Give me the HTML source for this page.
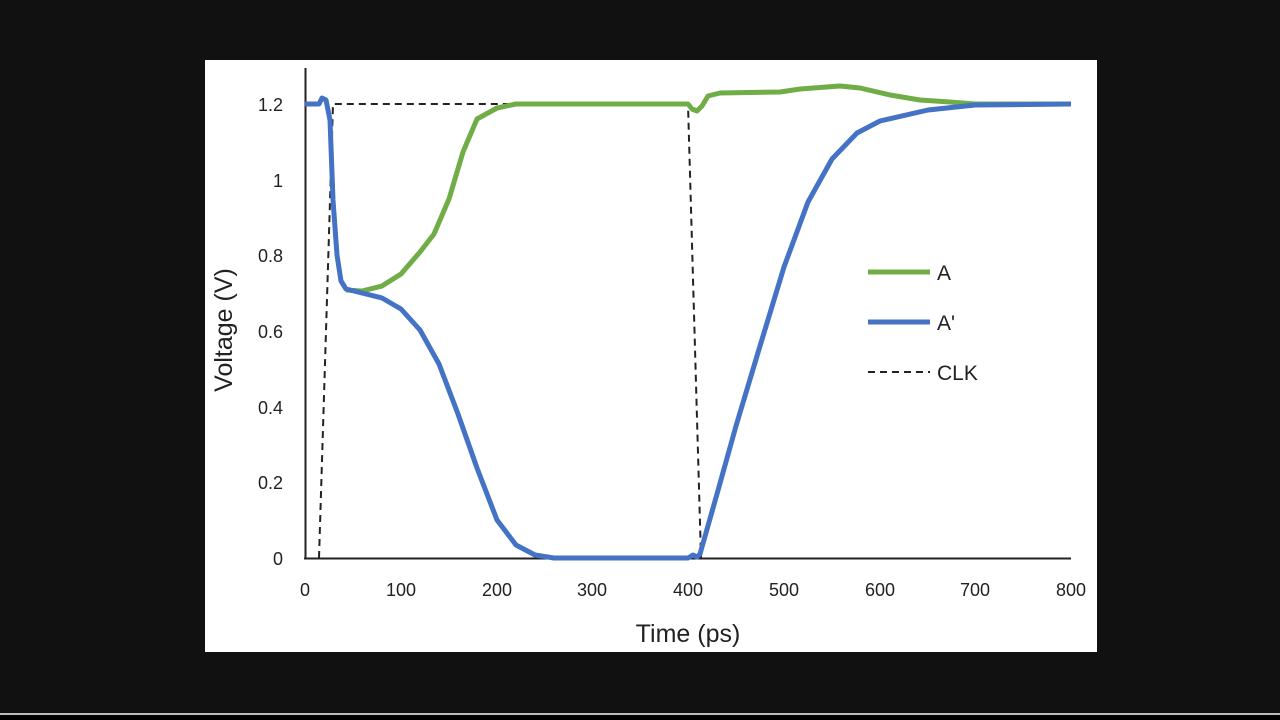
<!DOCTYPE html>
<html><head><meta charset="utf-8"><style>
html,body{margin:0;padding:0;background:#111;width:1280px;height:720px;overflow:hidden}
svg{display:block}
text{font-family:"Liberation Sans",sans-serif;fill:#222}
</style></head><body>
<svg width="1280" height="720" viewBox="0 0 1280 720">
<rect x="0" y="0" width="1280" height="720" fill="#111"/>
<rect x="0" y="713" width="1280" height="2" fill="#bbb"/>
<rect x="0" y="715" width="1280" height="5" fill="#000"/>
<rect x="205" y="60" width="892" height="592" fill="#fff"/>
<line x1="305.5" y1="68" x2="305.5" y2="559" stroke="#222" stroke-width="2"/>
<line x1="304" y1="558.5" x2="1071" y2="558.5" stroke="#222" stroke-width="2"/>
<g font-size="18" text-anchor="end">
<text x="283" y="565">0</text><text x="283" y="489">0.2</text><text x="283" y="414">0.4</text>
<text x="283" y="338">0.6</text><text x="283" y="262">0.8</text><text x="283" y="187">1</text><text x="283" y="111">1.2</text>
</g>
<g font-size="18" text-anchor="middle">
<text x="305" y="596">0</text><text x="401" y="596">100</text><text x="497" y="596">200</text><text x="592" y="596">300</text>
<text x="688" y="596">400</text><text x="784" y="596">500</text><text x="880" y="596">600</text><text x="975" y="596">700</text><text x="1071" y="596">800</text>
</g>
<text x="688" y="642" font-size="25" text-anchor="middle">Time (ps)</text>
<text transform="translate(232,330) rotate(-90)" font-size="25" text-anchor="middle">Voltage (V)</text>
<polyline fill="none" stroke="#222" stroke-width="2" stroke-dasharray="7,5" points="319,558 333,104 688,104 701,558"/>
<polyline fill="none" stroke="#70ad47" stroke-width="5" stroke-linejoin="round" points="346,290 362,291 382,286 401,274 420,252 434,234 449,199 463,152 477,119 497,108 516,104 688,104 692,109 697,111 702,106 708,96 720,93 780,92 800,89 840,86 860,88 890,95 920,100 950,102 975,104 1071,104"/>
<polyline fill="none" stroke="#4472c4" stroke-width="5" stroke-linejoin="round" points="305,104 319,104 322,98 326,100 330,120 333,200 337,255 341,281 346,289 362,293 382,298 401,309 420,330 439,364 458,414 477,468 497,520 516,545 535,555 554,558 688,558 693,555 697,557 700,554 717,494 736,426 760,346 784,267 808,202 832,159 857,133 880,121 928,110 975,105 1071,104"/>
<line x1="868" y1="272" x2="930" y2="272" stroke="#70ad47" stroke-width="5"/>
<line x1="868" y1="322" x2="930" y2="322" stroke="#4472c4" stroke-width="5"/>
<line x1="868" y1="372" x2="930" y2="372" stroke="#222" stroke-width="2" stroke-dasharray="7,5"/>
<g font-size="21"><text x="937" y="280">A</text><text x="937" y="330">A'</text><text x="937" y="380">CLK</text></g>
</svg>
</body></html>
